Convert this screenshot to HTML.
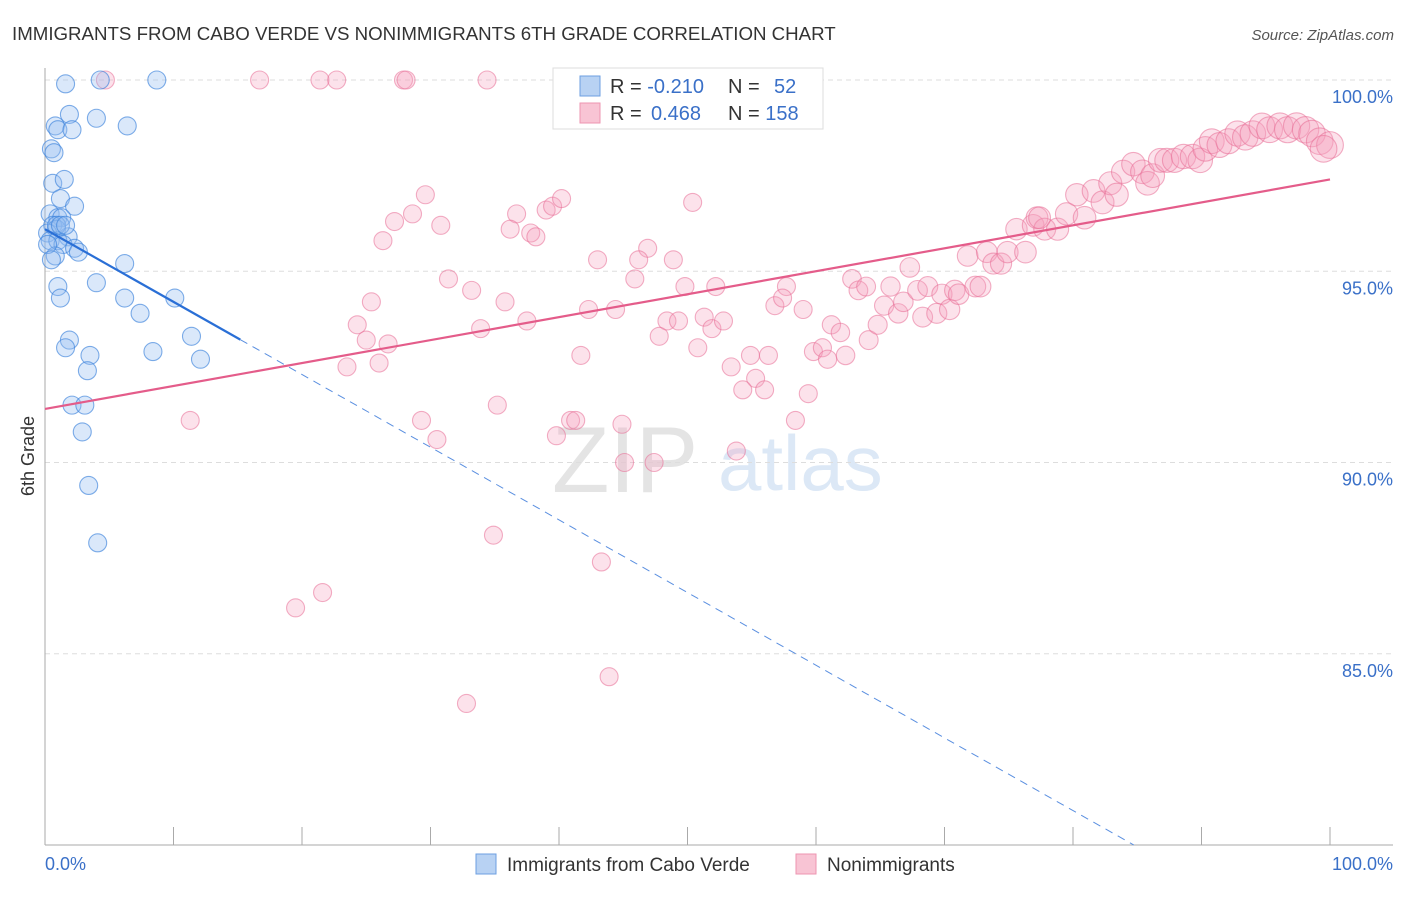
<!DOCTYPE html>
<html><head><meta charset="utf-8"><style>
body{margin:0;background:#fff;font-family:"Liberation Sans",sans-serif;}
svg text{font-family:"Liberation Sans",sans-serif;}
</style></head><body>
<svg id="chart" width="1406" height="892" viewBox="0 0 1406 892" xmlns="http://www.w3.org/2000/svg">
<text x="12" y="40" font-size="18.7" fill="#333">IMMIGRANTS FROM CABO VERDE VS NONIMMIGRANTS 6TH GRADE CORRELATION CHART</text>
<text x="1394" y="40" font-size="15" fill="#555" font-style="italic" text-anchor="end">Source: ZipAtlas.com</text>
<text x="34" y="456" font-size="18" fill="#333" transform="rotate(-90 34 456)" text-anchor="middle">6th Grade</text>
<g>
<text x="552" y="492" font-size="94" font-family="Liberation Serif" fill="#e4e4e4">ZIP</text>
<text x="718" y="490" font-size="78" fill="#dce8f6">atlas</text>
</g>
<g id="grid"></g><g id="axes"></g><g id="pts"></g><g id="trends"></g>
<g>
<rect x="553" y="68" width="270" height="61" fill="#fff" stroke="#ddd"/>
<rect x="580" y="76" width="20" height="20" fill="#b8d2f3" stroke="#6d9fe0"/>
<rect x="580" y="103" width="20" height="20" fill="#f8c4d4" stroke="#ee95b1"/>
<text x="610" y="93" font-size="20" fill="#333">R = <tspan fill="#3a70c8">-0.210</tspan></text>
<text x="728" y="93" font-size="20" fill="#333">N = <tspan fill="#3a70c8" x="774">52</tspan></text>
<text x="610" y="120" font-size="20" fill="#333">R = <tspan fill="#3a70c8" x="651">0.468</tspan></text>
<text x="728" y="120" font-size="20" fill="#333">N = <tspan fill="#3a70c8">158</tspan></text>
</g>
<g>
<rect x="476" y="854" width="20" height="20" fill="#b8d2f3" stroke="#6d9fe0"/>
<text x="507" y="871" font-size="19" fill="#333">Immigrants from Cabo Verde</text>
<rect x="796" y="854" width="20" height="20" fill="#f8c4d4" stroke="#ee95b1"/>
<text x="827" y="871" font-size="19" fill="#333">Nonimmigrants</text>
</g>
</svg>
<script>
const yTicks=[100,95,90,85];
const yTickLabels=["100.0%","95.0%","90.0%","85.0%"];
const xTickLabels=["0.0%","100.0%"];
const blueX=[1.6,4.3,8.7,1.9,4.0,6.4,0.8,1.0,2.1,0.5,0.7,0.6,1.5,1.2,2.3,0.4,1.0,1.3,0.6,0.9,0.2,1.8,0.4,1.0,1.4,2.3,2.6,0.8,6.2,4.0,1.0,1.2,6.2,10.1,7.4,11.4,1.9,1.6,8.4,3.5,12.1,3.3,2.1,3.1,2.9,3.4,4.1,0.2,0.9,0.5,1.2,1.6];
const blueY=[99.9,100,100,99.1,99.0,98.8,98.8,98.7,98.7,98.2,98.1,97.3,97.4,96.9,96.7,96.5,96.4,96.4,96.2,96.1,96.0,95.9,95.8,95.8,95.7,95.6,95.5,95.4,95.2,94.7,94.6,94.3,94.3,94.3,93.9,93.3,93.2,93.0,92.9,92.8,92.7,92.4,91.5,91.5,90.8,89.4,87.9,95.7,96.2,95.3,96.2,96.2];
const pinkX=[4.7,16.7,21.4,22.7,27.9,28.1,34.4,11.3,19.5,21.6,32.8,43.9,34.9,43.3,25.4,24.3,25.0,26.7,23.5,26.0,33.9,35.8,37.5,42.3,44.4,41.7,35.2,29.3,30.5,40.9,41.3,39.8,44.9,45.1,43.0,31.4,33.2,29.6,27.2,28.6,26.3,30.8,36.7,36.2,37.8,38.2,39.0,39.5,40.2,50.4,46.9,46.2,48.9,45.9,49.8,52.2,48.4,49.3,47.8,51.3,51.9,52.8,50.8,53.4,54.9,56.3,55.3,54.3,56.0,59.4,58.4,53.8,47.4,56.8,57.7,57.4,59.0,59.8,60.5,60.9,62.3,61.2,61.9,62.8,63.3,63.9,64.1,64.8,65.3,65.8,66.4,66.8,67.3,67.9,68.3,68.7,69.4,69.8,70.4,70.8,71.1,71.8,72.4,72.8,73.3,73.8,74.4,74.9,75.6,76.3,76.9,77.2,77.8,78.8,77.4,79.5,80.3,80.9,81.6,82.3,82.9,83.4,83.9,84.7,85.4,85.8,86.2,86.8,87.3,87.9,88.6,89.3,89.9,90.3,90.8,91.4,92.1,92.8,93.4,94.0,94.7,95.3,96.1,96.7,97.4,98.1,98.6,99.2,100.0,99.5];
const pinkY=[100,100,100,100,100,100,100,91.1,86.2,86.6,83.7,84.4,88.1,87.4,94.2,93.6,93.2,93.1,92.5,92.6,93.5,94.2,93.7,94.0,94.0,92.8,91.5,91.1,90.6,91.1,91.1,90.7,91.0,90.0,95.3,94.8,94.5,97.0,96.3,96.5,95.8,96.2,96.5,96.1,96.0,95.9,96.6,96.7,96.9,96.8,95.6,95.3,95.3,94.8,94.6,94.6,93.7,93.7,93.3,93.8,93.5,93.7,93.0,92.5,92.8,92.8,92.2,91.9,91.9,91.8,91.1,90.3,90.0,94.1,94.6,94.3,94.0,92.9,93.0,92.7,92.8,93.6,93.4,94.8,94.5,94.6,93.2,93.6,94.1,94.6,93.9,94.2,95.1,94.5,93.8,94.6,93.9,94.4,94.0,94.5,94.4,95.4,94.6,94.6,95.5,95.2,95.2,95.5,96.1,95.5,96.2,96.4,96.1,96.1,96.4,96.5,97.0,96.4,97.1,96.8,97.3,97.0,97.6,97.8,97.6,97.3,97.5,97.9,97.9,97.9,98.0,98.0,97.9,98.2,98.4,98.3,98.4,98.6,98.5,98.6,98.8,98.7,98.8,98.7,98.8,98.7,98.6,98.4,98.3,98.2];
const blueTrend=[96.1,-0.19];
const pinkTrend=[91.4,0.06];
const NS="http://www.w3.org/2000/svg";
const X0=45,X1=1330,Y0=80,YB=845;
const xs=v=>X0+(X1-X0)*v/100;
const ys=v=>Y0+(100-v)*(YB-Y0)/20;
function mk(t,a,p){const e=document.createElementNS(NS,t);for(const k in a)e.setAttribute(k,a[k]);p.appendChild(e);return e;}
const grid=document.getElementById('grid'),axes=document.getElementById('axes'),pts=document.getElementById('pts'),tr=document.getElementById('trends');
yTicks.forEach((v,i)=>{
 const l=mk('line',{x1:X0,x2:1393,y1:ys(v),y2:ys(v),stroke:'#ddd','stroke-dasharray':'5,4'},grid);
 
 
 const t=mk('text',{x:1393,y:ys(v)+23,'font-size':18,fill:'#3a70c8','text-anchor':'end'},axes);
 t.textContent=yTickLabels[i];
 
 
});
const ax=mk('line',{x1:X0,x2:X0,y1:68,y2:YB,stroke:'#aaa'},axes);


const bx=mk('line',{x1:X0,x2:1393,y1:YB,y2:YB,stroke:'#aaa'},axes);


for(let i=0;i<=10;i++){
 const tk=mk('line',{x1:xs(i*10),x2:xs(i*10),y1:827,y2:YB,stroke:'#aaa'},axes);
 
 
}
[[0,'start',X0],[1,'end',1393]].forEach(([i,a,x])=>{
 const t=mk('text',{x:x,y:870,'font-size':18,fill:'#3a70c8','text-anchor':a},axes);
 t.textContent=xTickLabels[i];
 
 
});
pinkX.forEach((v,i)=>{
 const r=9+Math.max(0,v-60)*0.11;
 const c=mk('circle',{cx:xs(v),cy:ys(pinkY[i]),r:r,fill:'rgba(244,160,188,0.3)',stroke:'rgba(232,110,150,0.55)','stroke-width':1.1},pts);
 
 
});
blueX.forEach((v,i)=>{
 const c=mk('circle',{cx:xs(v),cy:ys(blueY[i]),r:9,fill:'rgba(150,190,240,0.35)',stroke:'rgba(60,130,220,0.65)','stroke-width':1.1},pts);
 
 
});
const bEnd=15.2, bFar=(80-blueTrend[0])/blueTrend[1];
const b1=mk('line',{x1:xs(0),y1:ys(blueTrend[0]),x2:xs(bEnd),y2:ys(blueTrend[0]+blueTrend[1]*bEnd),stroke:'#2a6fd6','stroke-width':2.2},tr);


const b2=mk('line',{x1:xs(bEnd),y1:ys(blueTrend[0]+blueTrend[1]*bEnd),x2:xs(bFar),y2:ys(80),stroke:'#5a8fe0','stroke-width':1,'stroke-dasharray':'8,6'},tr);


const p1=mk('line',{x1:xs(0),y1:ys(pinkTrend[0]),x2:xs(100),y2:ys(pinkTrend[0]+pinkTrend[1]*100),stroke:'#e45c8a','stroke-width':2.2},tr);


</script>
</body></html>
